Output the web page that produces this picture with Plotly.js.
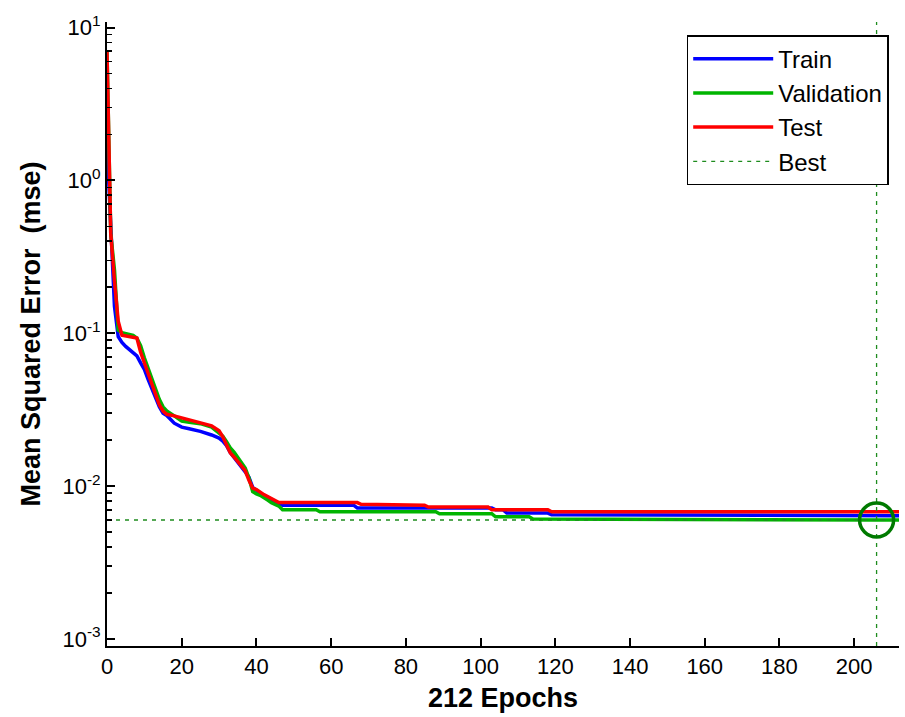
<!DOCTYPE html>
<html>
<head>
<meta charset="utf-8">
<script src="https://cdn.plot.ly/plotly-3.0.1.min.js"></script>
<style>html,body{margin:0;padding:0;background:#fff;}#chart{width:905px;height:717px;}</style>
</head>
<body>
<div id="chart"></div>
<script>
// Epoch samples
const trainEpochs = [0,1,2,3,4,5,6,7,8,9,10,11,12,13,14,15,16,18,20,22,25,28,30,31,32,33,34,35,36,37,38,39,40,42,44,45,47,66,67,103,104,106,107,118,119,212];
const trainMSE    = [1.75,0.45,0.15,0.095,0.087,0.082,0.078,0.075,0.071,0.064,0.058,0.050,0.043,0.037,0.033,0.030,0.029,0.0258,0.0243,0.0237,0.0228,0.0216,0.0206,0.0197,0.0184,0.0166,0.0155,0.0143,0.0133,0.0124,0.0114,0.0098,0.0094,0.0087,0.0082,0.0079,0.0075,0.0075,0.0072,0.0072,0.0070,0.0070,0.00666,0.00666,0.0065,0.0064];

const valEpochs = [0,1,2,3,4,5,6,7,8,9,10,11,12,13,14,15,16,18,20,22,25,28,30,31,32,33,34,35,36,37,38,39,40,41,43,44,46,47,56,57,88,89,103,104,113,114,206,212];
const valMSE    = [6.97,0.45,0.26,0.105,0.101,0.100,0.099,0.097,0.093,0.083,0.069,0.059,0.051,0.043,0.037,0.033,0.031,0.0288,0.0266,0.0262,0.0256,0.0243,0.0224,0.0212,0.0195,0.0178,0.0167,0.0154,0.0143,0.0131,0.0113,0.0092,0.0089,0.0087,0.0081,0.0078,0.0074,0.0070,0.0070,0.0068,0.0068,0.0066,0.0066,0.0063,0.0063,0.0061,0.0060,0.0060];

const testEpochs = [0,1,2,3,4,5,6,7,8,9,10,11,12,13,14,15,16,18,20,22,25,28,30,31,32,33,34,35,36,37,38,39,40,41,42,44,45,46,67,68,85,86,102,103,118,119,212];
const testMSE    = [6.97,0.45,0.22,0.12,0.097,0.096,0.095,0.094,0.093,0.075,0.064,0.055,0.047,0.040,0.034,0.031,0.0295,0.0288,0.0280,0.0272,0.0262,0.0248,0.0230,0.0210,0.0186,0.0165,0.0155,0.0145,0.0137,0.0126,0.0109,0.0097,0.0095,0.0091,0.0088,0.0083,0.0080,0.0078,0.0078,0.0076,0.0075,0.0073,0.0073,0.0070,0.0070,0.0068,0.0068];

const bestEpoch = 206;
const bestMSE = 0.0060;
const yRangeLog = [-3.046, 1.036];
const xRange = [0, 212];
const xTicks = [0,20,40,60,80,100,120,140,160,180,200];
const yTickVals = [0.001, 0.01, 0.1, 1, 10];
const yTickText = ['10<sup>-3</sup>','10<sup>-2</sup>','10<sup>-1</sup>','10<sup>0</sup>','10<sup>1</sup>'];

const yMin = Math.pow(10, yRangeLog[0]), yMax = Math.pow(10, yRangeLog[1]);
const font = "Arial, 'Liberation Sans', sans-serif";

const traces = [
  {x: trainEpochs, y: trainMSE, mode:'lines', name:'Train', line:{color:'#0000FF', width:3.5}, legendgroup:'a'},
  {x: valEpochs, y: valMSE, mode:'lines', name:'Validation', line:{color:'#00B400', width:3.5}, legendgroup:'b'},
  {x: testEpochs, y: testMSE, mode:'lines', name:'Test', line:{color:'#FF0000', width:3.5}, legendgroup:'c'},
  {x: [bestEpoch,bestEpoch,null,xRange[0],xRange[1]], y:[yMin,yMax,null,bestMSE,bestMSE], mode:'lines', name:'Best',
   line:{color:'#1E8C1E', width:1.3, dash:'4px,5px'}, legendgroup:'d'},
  {x:[bestEpoch], y:[bestMSE], mode:'markers', showlegend:false, hoverinfo:'skip',
   marker:{symbol:'circle-open', size:34, color:'#007A00', line:{width:3.5, color:'#007A00'}}}
];

const layout = {
  width: 905, height: 717,
  margin: {l:107, r:6, t:22, b:71},
  paper_bgcolor:'#fff', plot_bgcolor:'#fff',
  font: {family: font, color:'#000', size:22},
  showlegend: true,
  legend: {x:0.987, xanchor:'right', y:0.979, yanchor:'top', bgcolor:'#fff', bordercolor:'#000', borderwidth:1.5,
           font:{size:24, family:font, color:'#000'}, itemwidth:80, traceorder:'grouped', tracegroupgap:0},
  xaxis: {range: xRange, tickvals: xTicks, ticks:'inside', ticklen:8, tickwidth:2, tickcolor:'#000',
          showline:true, linecolor:'#000', linewidth:2, showgrid:false, zeroline:false, mirror:false,
          tickfont:{size:22, family:font},
          title:{text:'<b>212 Epochs</b>', font:{size:27, family:font}, standoff:10}},
  yaxis: {type:'log', range: yRangeLog, tickvals: yTickVals, ticktext: yTickText, ticks:'inside', ticklen:8, tickwidth:2, tickcolor:'#000',
          showline:true, linecolor:'#000', linewidth:2, showgrid:false, zeroline:false, mirror:false,
          tickfont:{size:22, family:font},
          minor:{dtick:'D1', ticks:'inside', ticklen:5, tickwidth:1.5, tickcolor:'#000', showgrid:false},
          title:{text:'<b>Mean Squared Error  (mse)</b>', font:{size:27, family:font}, standoff:14}}
};

Plotly.newPlot('chart', traces, layout, {displayModeBar:false, staticPlot:true});
</script>
</body>
</html>
